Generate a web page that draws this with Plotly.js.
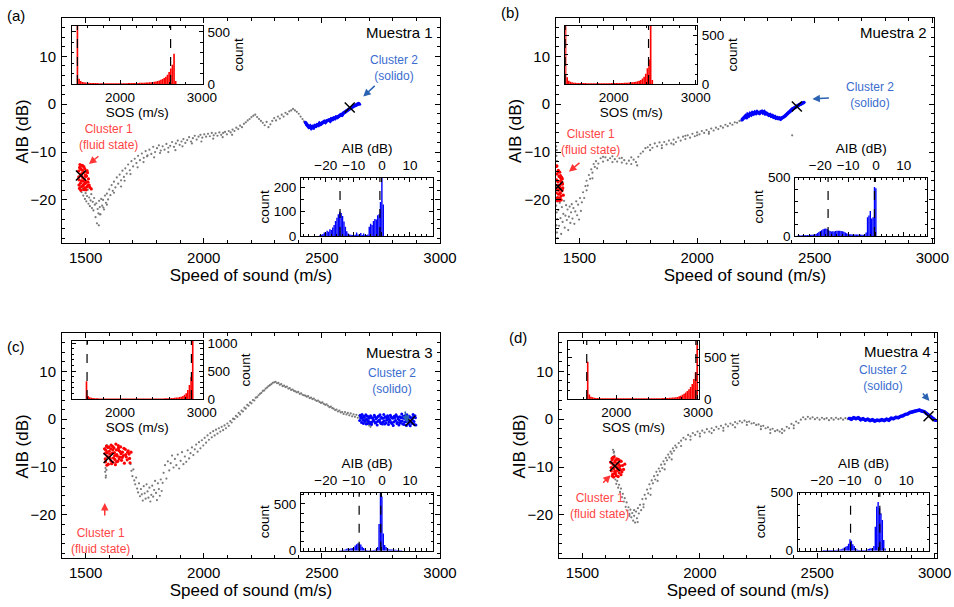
<!DOCTYPE html>
<html><head><meta charset="utf-8">
<script src="https://cdn.plot.ly/plotly-3.0.1.min.js"></script>
<style>html,body{margin:0;padding:0;background:#fff}#chart{width:954px;height:607px}</style>
</head><body><div id="chart"></div>
<script>
// ---------------- Panel (a) Muestra 1 ----------------
const grayAx = [1478,1483,1487,1490,1494,1497,1500,1503,1506,1509,
1512,1515,1518,1521,1524,1527,1530,1533,1536,1539,
1542,1545,1548,1551,1554,1557,1560,1563,1566,1570,
1574,1578,1582,1586,1590,1595,1600,1605,1610,1615,
1620,1626,1632,1638,1644,1650,1656,1662,1668,1674,
1680,1687,1694,1701,1708,1715,1722,1730,1738,1746,
1754,1762,1770,1778,1786,1794,1802,1810,1818,1826,
1834,1842,1850,1858,1866,1874,1882,1890,1898,1906,
1914,1922,1930,1938,1946,1954,1962,1970,1978,1986,
1994,2002,2010,2018,2026,2034,2042,2050,2058,2066,
2074,2082,2090,2098,2106,2114,2122,2130,2138,2146,
2154,2162,2170,2178,2186,2194,2202,2210,2218,2226,
2234,2242,2250,2258,2266,2274,2282,2290,2298,2306,
2314,2322,2330,2338,2346,2354,2362,2370,2378,2386,
2394,2402,2410,2418,2424,
1560,1575,1590,1620,1650,1665,1690,1720,1745,1760,
1790,1815,1850,1880,1910,1950,1990,2040,2080,2120,1556];
const grayAy = [-17.2,-18.4,-17.6,-19.1,-18.0,-19.8,-18.6,-20.3,-19.2,-17.9,
-20.8,-19.5,-21.3,-20.1,-18.8,-21.7,-20.4,-22.2,-19.6,-21.0,
-23.6,-20.7,-24.9,-21.9,-22.8,-20.2,-21.5,-23.0,-19.8,-21.2,
-20.0,-22.0,-19.1,-20.6,-18.7,-19.9,-17.8,-19.0,-16.9,-18.1,
-16.2,-17.4,-15.3,-16.6,-14.7,-15.9,-13.9,-15.2,-13.4,-14.5,
-12.6,-13.8,-11.9,-13.0,-11.4,-12.3,-10.8,-11.7,-10.3,-11.2,
-9.8,-10.7,-9.5,-10.4,-8.9,-10.0,-9.2,-8.6,-9.7,-8.8,
-9.5,-8.3,-9.1,-8.7,-7.9,-8.9,-8.2,-7.6,-8.5,-7.8,
-7.3,-8.1,-7.5,-6.9,-7.8,-7.1,-6.6,-7.4,-6.8,-6.4,
-7.0,-6.3,-6.8,-6.2,-6.7,-6.0,-6.5,-6.1,-6.6,-5.9,
-6.4,-6.0,-5.8,-6.3,-5.6,-5.9,-5.3,-5.6,-4.9,-5.2,
-4.5,-4.8,-4.1,-3.8,-3.4,-3.1,-2.7,-2.4,-2.2,-2.7,
-3.1,-3.5,-3.9,-4.4,-3.7,-4.8,-4.2,-3.5,-2.9,-3.4,
-2.6,-3.0,-2.2,-2.6,-1.8,-2.1,-1.5,-1.3,-1.0,-1.3,
-1.6,-2.0,-2.6,-3.1,-3.6,
-23.0,-21.6,-21.0,-18.5,-17.2,-16.0,-14.6,-13.2,-12.1,-10.9,
-11.1,-10.2,-10.0,-9.6,-8.8,-8.2,-7.8,-7.2,-6.9,-6.4,-25.3];
const redAx = [1470,1472,1475,1478,1480,1483,1486,1488,1491,1494,1497,1500,1503,1506,1509,1512,1515,
1472,1476,1480,1484,1488,1492,1496,1500,1504,1508,
1474,1479,1485,1490,1495,1502,1510,1518,1524,
1477,1482,1487,1493,1499,1505,
1471,1481,1489,1497];
const redAy = [-14.0,-15.8,-13.2,-16.5,-14.6,-17.2,-13.8,-15.4,-16.8,-14.2,-17.5,-15.1,-16.2,-13.9,-17.0,-15.6,-16.9,
-16.9,-12.6,-18.0,-15.0,-12.9,-17.8,-13.5,-16.4,-15.0,-14.3,
-17.6,-14.9,-12.8,-16.1,-15.7,-17.9,-16.3,-17.4,-17.7,
-13.4,-16.0,-14.4,-13.1,-14.8,-17.3,
-15.2,-13.6,-17.1,-16.6];
const blueAx = [2430,2435,2440,2445,2450,2455,2460,2465,2470,2475,2480,2485,2490,2495,2500,2505,2510,2515,2520,2525,
2530,2535,2540,2545,2550,2555,2560,2565,2570,2575,2580,2585,2590,2595,2600,2605,2610,2615,2620,2625,
2630,2635,2640,2645,2650,2655,2660];
const blueAy = [-3.8,-4.3,-4.5,-4.8,-4.6,-5.0,-4.7,-4.9,-4.5,-4.6,-4.3,-4.4,-4.0,-4.2,-3.9,-3.8,-3.6,-3.8,-3.5,-3.4,
-3.3,-3.5,-3.1,-3.2,-2.9,-3.0,-2.7,-2.8,-2.5,-2.4,-2.2,-2.3,-1.9,-1.8,-1.6,-1.4,-1.2,-1.0,-0.9,-0.7,
-0.6,-0.4,-0.3,-0.2,0.0,0.1,0.0];
const centerSosA = [1480, 2618];
const centerAibA = [-14.9, -0.7];
const sosAx = [1480,1500,1520,1540,1560,1580,1600,1620,1640,1660,
1680,1700,1720,1740,1760,1780,1800,1820,1840,1860,
1880,1900,1920,1940,1960,1980,2000,2020,2040,2060,
2080,2100,2120,2140,2160,2180,2200,2220,2240,2260,
2280,2300,2320,2340,2360,2380,2400,2420,2440,2460,
2480,2500,2520,2540,2560,2580,2600,2620,2640,2660,2680];
const sosAc = [620,50,28,20,16,14,12,11,10,10,
9,9,9,8,8,8,8,8,8,8,
8,8,8,8,8,8,8,8,8,8,
8,9,9,9,9,10,10,10,11,11,
12,13,14,15,16,18,20,22,25,29,
34,40,48,58,70,90,115,150,185,290,30];
const aibAx = [-22,-21.5,-21,-20.5,-20,-19.5,-19,-18.5,-18,-17.5,
-17,-16.5,-16,-15.5,-15,-14.5,-14,-13.5,-13,-12.5,
-12,-11.5,-11,-10.5,-10,-9.5,-9,-8.5,-8,-7.5,
-7,-6.5,-6,-5.5,-5,-4.5,-4,-3.5,-3,-2.5,
-2,-1.5,-1,-0.5,0,0.5];
const aibAc = [4,5,8,14,12,22,18,28,25,35,
45,62,75,90,100,95,82,60,38,20,
10,6,5,4,4,5,14,6,5,12,
4,10,5,4,6,38,50,45,62,70,
68,85,90,140,250,130];

// ---------------- Panel (b) Muestra 2 ----------------
const grayBx = [1401,1403,1402,1404,1401,1403,1405,1402,1404,1406,
1410,1413,1416,1419,1422,1425,1428,1431,1434,1437,
1440,1443,1446,1449,1452,1455,1458,1461,1464,1467,
1470,1474,1478,1482,1486,1490,1494,1498,1502,1506,
1510,1515,1520,1525,1530,1535,1540,1545,1550,1555,
1560,1565,1570,1580,1590,1600,1610,1620,1630,1640,
1650,1660,1670,1680,1690,1700,1710,1720,1730,1740,
1750,1760,1770,1780,1790,1800,1810,1820,1830,1840,
1850,1860,1870,1880,1890,1900,1910,1920,1930,1940,
1950,1960,1970,1980,1990,2000,2010,2020,2030,2040,
2050,2060,2070,2080,2090,2100,2110,2120,2130,2140,
2150,2160,2170,2180,2190,2404,
1530,1555,1575,1600,1640,1680,1720,1745,1800,1850,1900,1950,2000,2050];
const grayBy = [-8.8,-9.6,-10.8,-11.9,-21.2,-22.6,-24.0,-25.3,-26.8,-28.0,
-22.1,-25.4,-20.6,-23.8,-27.1,-21.5,-24.6,-22.9,-20.2,-25.8,
-23.3,-21.1,-24.2,-22.0,-26.3,-23.5,-21.4,-24.8,-22.6,-20.9,
-23.9,-21.7,-25.0,-22.4,-20.3,-23.2,-21.0,-24.1,-19.6,-22.3,
-20.5,-18.4,-19.6,-17.1,-16.0,-17.0,-14.8,-15.6,-13.6,-14.3,
-12.5,-13.1,-11.9,-12.4,-11.3,-12.0,-11.1,-11.7,-11.3,-12.1,
-11.5,-12.0,-11.3,-12.2,-11.7,-12.4,-11.8,-12.5,-11.6,-12.1,
-11.0,-10.3,-9.9,-9.2,-9.0,-8.5,-9.1,-8.2,-8.8,-8.0,
-8.6,-7.9,-8.4,-7.6,-8.2,-7.4,-7.9,-7.0,-7.6,-6.8,
-7.3,-6.5,-7.0,-6.2,-6.7,-5.9,-6.3,-5.6,-6.0,-5.4,
-5.8,-5.1,-5.5,-4.9,-5.2,-4.6,-4.9,-4.3,-4.6,-4.0,
-4.3,-3.8,-3.9,-3.5,-3.4,-6.5,
-18.0,-15.5,-13.4,-11.0,-10.9,-11.2,-11.1,-12.8,-9.6,-9.2,-8.4,-6.6,-6.5,-6.2];
const redBx = [1401,1403,1405,1407,1409,1411,1413,1415,1417,1419,1421,1423,1425,1427,1429,1431,
1402,1404,1406,1408,1410,1412,1414,1416,1418,1420,1422,1424,1426,1428,
1401,1405,1409,1413,1417,1421,1425,1403,1411,1419];
const redBy = [-13.0,-17.8,-14.6,-19.5,-16.2,-18.8,-15.1,-20.1,-17.0,-14.9,-19.2,-16.5,-18.1,-15.6,-17.5,-19.0,
-15.8,-12.9,-20.2,-16.9,-13.8,-19.9,-17.4,-14.2,-18.6,-16.0,-20.0,-15.3,-17.9,-16.7,
-18.5,-16.0,-14.1,-17.2,-19.6,-15.5,-16.3,-19.7,-18.0,-17.6];
const blueBx = [2190,2195,2200,2205,2210,2215,2220,2225,2230,2235,2240,2245,2250,2255,2260,2265,2270,2275,2280,2285,
2290,2295,2300,2305,2310,2315,2320,2325,2330,2335,2340,2345,2350,2355,2360,2365,2370,2375,2380,2385,
2390,2395,2400,2405,2410,2415,2420,2425,2430,2435,2440,2445,2450,2455];
const blueBy = [-3.3,-3.0,-2.8,-2.5,-2.9,-2.2,-2.4,-2.0,-2.2,-1.8,-2.0,-1.7,-1.9,-1.6,-1.8,-1.9,-1.6,-1.5,-1.8,-1.6,
-2.0,-1.9,-2.1,-2.3,-2.2,-2.5,-2.4,-2.7,-2.6,-2.9,-2.8,-3.0,-2.9,-3.1,-2.9,-2.8,-2.6,-2.4,-2.1,-1.9,
-1.7,-1.5,-1.2,-1.0,-0.9,-0.7,-0.6,-0.4,-0.3,-0.1,0.0,0.2,0.3,0.4];
const centerSosB = [1408, 2424];
const centerAibB = [-17.2, -0.5];
const sosBx = [1410,1430,1450,1470,1490,1510,1530,1550,1570,1590,
1610,1630,1650,1670,1690,1710,1730,1750,1770,1790,
1810,1830,1850,1870,1890,1910,1930,1950,1970,1990,
2010,2030,2050,2070,2090,2110,2130,2150,2170,2190,
2210,2230,2250,2270,2290,2310,2330,2350,2370,2390,
2410,2430,2450,2470];
const sosBc = [650,70,32,22,17,14,12,11,10,10,
9,9,9,8,8,8,8,8,8,8,
8,8,8,8,8,8,8,8,9,9,
9,9,10,10,11,11,12,13,14,15,
17,19,21,24,28,34,42,55,75,105,
160,250,650,40];
const aibBx = [-28,-27.5,-27,-26.5,-26,-25.5,-25,-24.5,-24,-23.5,
-23,-22.5,-22,-21.5,-21,-20.5,-20,-19.5,-19,-18.5,
-18,-17.5,-17,-16.5,-16,-15.5,-15,-14.5,-14,-13.5,
-13,-12.5,-12,-11.5,-11,-10.5,-10,-9.5,-9,-8.5,
-8,-7.5,-7,-6.5,-6,-5.5,-5,-4.5,-4,-3.5,
-3,-2.5,-2,-1.5,-1,-0.5,0];
const aibBc = [5,6,5,7,6,8,7,8,9,10,
10,12,14,18,25,35,42,50,58,62,
65,60,50,42,38,40,38,42,45,44,
46,43,40,36,30,24,18,15,14,13,
14,12,13,12,11,12,10,11,12,30,
160,175,215,150,160,420,410];

// ---------------- Panel (c) Muestra 3 ----------------
const grayCx = [1582,1584,1583,1586,1585,1588,1584,1590,1587,1589,
1690,1694,1698,1702,1706,1710,1714,1718,1722,1726,1730,1734,1738,1742,1746,1750,1754,1758,1762,1766,
1770,1774,1778,1782,1786,1790,1794,1798,1802,1806,1810,1814,1818,1822,1826,
1830,1836,1842,1848,1854,1860,1866,1872,1878,1884,1890,1896,1902,1908,1914,1920,1926,1932,1938,1944,
1950,1956,1962,1968,1974,1980,1986,1992,1998,2004,
2010,2016,2022,2028,2034,2040,2046,2052,2058,2064,2070,2076,2082,2088,2094,2100,2106,2112,2118,2124,
2130,2136,2142,2148,2154,2160,2166,2172,2178,2184,
2190,2196,2202,2208,2214,2220,2226,2232,2238,2244,2250,2256,2262,2268,2274,2280,2286,2292,2298,2304,
2310,2316,2322,2328,2334,2340,2346,2352,2358,2364,
2370,2376,2382,2388,2394,2400,2406,2412,2418,2424,2430,2436,2442,2448,2454,2460,2466,2472,2478,2484,
2490,2496,2502,2508,2514,2520,2526,2532,2538,2544,
2550,2556,2562,2568,2574,2580,2586,2592,2598,2604,2610,2616,2622,2628,2634,2640,2646,2652,2658,2664,
2670,2676,2682,2688,2694,2700,2706,2712];
const grayCy = [-9.0,-10.2,-11.0,-11.8,-12.2,-10.6,-6.0,-5.4,-8.4,-7.2,
-9.4,-10.8,-11.9,-10.5,-12.8,-13.6,-12.2,-14.5,-15.3,-13.4,-16.1,-14.6,-15.7,-17.0,-14.0,-15.5,-16.6,-13.6,-15.1,-16.4,
-14.3,-17.2,-15.8,-13.9,-16.2,-14.8,-12.9,-15.4,-16.9,-13.4,-14.6,-16.0,-12.6,-15.0,-13.3,
-11.2,-9.6,-12.4,-8.8,-10.7,-9.2,-7.6,-10.1,-8.3,-9.6,-7.4,-10.3,-8.7,-6.9,-9.4,-7.8,-8.9,-6.5,-8.2,-7.1,
-5.9,-7.5,-6.3,-5.3,-6.8,-4.8,-6.1,-4.4,-5.5,-3.9,
-4.9,-3.4,-4.3,-2.9,-3.8,-2.5,-3.4,-2.2,-3.0,-1.9,-2.6,-1.6,-2.3,-1.3,-1.9,-0.9,-1.4,-0.4,-0.7,0.1,
0.0,0.7,0.5,1.3,1.0,1.8,1.6,2.4,2.2,3.0,
2.8,3.5,3.3,4.0,3.9,4.5,4.6,5.0,5.3,5.5,5.9,6.0,6.4,6.6,6.9,7.1,7.3,7.6,7.7,7.8,
7.5,7.6,7.2,7.3,6.9,7.0,6.7,6.8,6.4,6.5,
6.1,6.2,5.9,5.8,5.6,5.7,5.3,5.4,5.1,5.0,4.9,4.7,4.8,4.4,4.5,4.2,4.3,4.0,3.8,3.9,
3.6,3.4,3.5,3.2,3.0,3.1,2.8,2.5,2.6,2.3,
2.2,1.9,2.0,1.6,1.8,1.4,1.5,1.1,1.5,1.0,1.3,0.8,1.2,0.6,1.0,0.5,0.9,0.3,0.7,0.2,
0.4,-0.2,0.1,-0.6,-0.9,-1.3,-1.6,-1.0];
const redCx = [1580,1584,1588,1592,1596,1600,1604,1608,1612,1616,1620,1624,1628,1632,1636,1640,1644,1648,1652,1656,
1660,1664,1668,1672,1676,1680,1684,1688,1692,
1582,1586,1590,1594,1598,1602,1606,1610,1614,1618,1622,1626,1630,1634,1638,1642,1646,1650,1655,1662,1670,1678,1686,
1583,1591,1599,1607,1615,1623,1631,1639];
const redCy = [-6.2,-8.9,-5.6,-7.8,-9.4,-6.7,-8.2,-5.4,-7.1,-9.0,-6.0,-8.4,-5.2,-7.4,-8.8,-6.5,-7.9,-5.8,-8.6,-6.9,
-7.6,-9.2,-6.3,-7.9,-8.5,-6.6,-7.3,-9.1,-6.9,
-7.2,-6.5,-9.6,-5.9,-8.0,-7.3,-6.2,-9.3,-5.7,-8.1,-7.0,-9.5,-6.4,-7.7,-5.5,-8.3,-6.8,-7.2,-8.0,-6.1,-7.4,-6.9,-8.2,
-8.3,-7.0,-5.8,-8.7,-6.4,-7.6,-8.9,-6.0];
const blueCx1 = [2662,2666,2670,2674,2678,2682,2686,2690,2694,2698,2702,2706,2710,2714,2718,2722,2726,2730,2734,2738,
2742,2746,2750,2754,2758,2762,2766,2770,2774,2778,2782,2786,2790,2794,2798,2802,2806,2810,2814,2818,
2822,2826,2830,2834,2838,2842,2846,2850,2854,2858,2862,2866,2870,2874,2878,2882,2886,2890,2894,2898];
const blueCy1 = [0.8,0.2,1.0,-0.2,0.6,-0.5,0.9,0.0,-0.9,0.5,-0.6,0.7,-1.1,0.3,-0.4,0.8,-0.8,0.1,-1.2,0.6,
-0.3,0.9,-0.9,0.2,-0.6,1.0,-1.0,0.4,-0.2,0.7,-1.1,0.0,0.8,-0.7,0.3,-1.3,0.6,-0.4,0.9,-0.9,
0.1,-1.2,0.5,-0.5,1.1,-1.0,0.2,-0.6,0.8,-1.3,0.0,-0.8,0.6,-1.4,0.3,-0.9,1.0,-0.5,0.7,-1.2];
const blueCx2 = [2660,2664,2668,2672,2676,2680,2684,2688,2692,2696,2700,2704,2708,2712,2716,2720,2724,2728,2732,2736,
2740,2744,2748,2752,2756,2760,2764,2768,2772,2776,2780,2784,2788,2792,2796,2800,2804,2808,2812,2816,
2820,2824,2828,2832,2836,2840,2844,2848,2852,2856,2860,2864,2868,2872,2876,2880,2884,2888,2892,2896];
const blueCy2 = [-0.3,0.5,-0.7,0.3,-0.9,0.4,-0.2,-1.0,0.6,-0.4,0.2,-0.9,0.4,-0.6,0.1,-0.3,0.5,-0.7,0.3,-0.5,
0.6,-0.1,-0.7,0.4,-1.0,0.2,-0.4,0.5,-0.8,0.1,0.4,-0.6,-0.2,0.5,-0.9,0.2,-0.6,0.3,-0.3,0.6,
-0.7,0.4,-0.2,-0.8,0.3,-0.4,0.6,-1.1,0.2,-0.5,0.9,-0.3,-1.0,0.4,-0.6,0.2,-0.2,0.5,-1.1,0.3];
const centerSosC = [1597, 2874];
const centerAibC = [-8.1, -0.4];
const sosCx = [1590,1610,1630,1650,1670,1690,1710,1730,1750,1770,
1790,1810,1830,1850,1870,1890,1910,1930,1950,1970,
1990,2010,2030,2050,2070,2090,2110,2130,2150,2170,
2190,2210,2230,2250,2270,2290,2310,2330,2350,2370,
2390,2410,2430,2450,2470,2490,2510,2530,2550,2570,
2590,2610,2630,2650,2670,2690,2710,2730,2750,2770,
2790,2810,2830,2850,2870,2890];
const sosCc = [320,55,30,22,18,15,13,12,11,10,
10,9,9,9,9,8,8,8,8,8,
8,8,8,8,8,8,8,8,8,8,
8,8,8,8,8,8,8,8,8,8,
9,9,9,9,10,10,10,11,12,13,
14,15,17,19,22,25,29,34,42,55,
75,105,160,250,400,1100];
const aibCx = [-15,-14.5,-14,-13.5,-13,-12.5,-12,-11.5,-11,-10.5,
-10,-9.5,-9,-8.5,-8,-7.5,-7,-6.5,-6,-5.5,
-5,-4.5,-4,-3.5,-3,-2.5,-2,-1.5,-1,-0.5,
0,0.5,1,1.5,2,2.5,3,3.5,4,4.5,
5,5.5,6,6.5,7];
const aibCc = [5,6,8,10,14,20,25,22,25,28,
35,55,70,80,78,65,42,30,15,8,
6,5,5,6,8,10,14,40,285,640,
580,185,60,40,25,16,14,12,12,10,
10,8,8,6,5];

// ---------------- Panel (d) Muestra 4 ----------------
const grayDx = [1630,1633,1636,1628,1634,
1640,1644,1648,1652,1656,1660,1664,1668,1672,1676,1680,1684,1688,1692,1696,1700,1704,1708,1712,1716,
1720,1724,1728,1732,1736,1740,1745,1750,1755,1760,
1765,1770,1775,1780,1785,1790,1795,1800,1805,1810,1815,1820,1825,1830,1835,1840,1845,1850,1855,1860,
1865,1870,1875,1880,1885,1890,1895,1900,1910,1920,
1930,1940,1950,1960,1970,1980,1990,2000,2010,2020,2030,2040,2050,2060,2070,2080,2090,2100,2110,2120,
2130,2140,2150,2160,2170,2180,2190,2200,2210,2220,
2230,2240,2250,2260,2270,2280,2290,2300,2310,2320,2330,2340,2350,2360,2370,2380,2390,2400,2410,2420,
2430,2440,2450,2460,2470,2480,2490,2500,2510,2520,
2530,2540,2550,2560,2570,2580,2590,2600,2610,2620,2630,
1700,1720,1735,1760,1790,1820,1850,1880,1920,1960,2000,2050,2100,2150,2200,2260,2300,2350,2400];
const grayDy = [-6.4,-7.0,-7.6,-8.0,-6.8,
-12.6,-13.5,-12.9,-14.3,-13.7,-15.2,-14.5,-16.3,-15.6,-17.2,-16.5,-18.3,-17.4,-19.1,-18.4,-19.8,-18.9,-20.5,-19.6,-21.2,
-20.2,-21.6,-19.3,-20.7,-18.6,-19.7,-17.9,-19.0,-16.7,-17.8,
-15.8,-16.6,-14.7,-15.5,-13.6,-14.5,-12.8,-13.4,-11.9,-12.6,-11.0,-11.7,-10.3,-10.9,-9.5,-10.2,-8.8,-9.4,-8.1,-8.6,
-7.4,-8.0,-6.8,-7.2,-6.1,-6.6,-5.5,-5.9,-5.0,-4.5,
-3.9,-4.2,-3.3,-3.6,-2.9,-3.3,-2.6,-3.0,-2.4,-2.8,-2.1,-2.6,-1.9,-2.3,-1.6,-2.0,-1.4,-1.8,-1.1,-1.5,
-0.9,-1.2,-0.6,-0.9,-0.4,-0.7,-0.3,-0.6,-0.5,-0.9,
-0.8,-1.2,-1.1,-1.5,-1.4,-1.9,-1.7,-2.2,-2.0,-2.5,-2.3,-2.6,-2.1,-2.4,-1.6,-1.9,-1.0,-1.3,-0.5,-0.8,
-0.1,0.4,0.0,0.5,0.1,0.4,0.0,0.3,-0.1,0.3,
0.0,0.2,-0.2,0.2,-0.1,0.3,0.0,0.2,-0.1,0.2,0.0,
-20.2,-19.0,-21.5,-18.4,-15.8,-12.9,-10.5,-8.4,-5.6,-4.3,-3.6,-2.9,-2.4,-1.7,-1.2,-2.1,-2.9,-2.9,-1.9];
const redDx = [1620,1623,1626,1629,1632,1635,1638,1641,1644,1647,1650,1653,1656,1659,1662,1665,1668,
1622,1625,1628,1631,1634,1637,1640,1643,1646,1649,1652,1655,1658,1661,1664,1670,1675,1680,
1627,1633,1639,1645,1651];
const redDy = [-9.0,-10.8,-8.2,-11.5,-9.6,-7.9,-10.9,-8.6,-11.8,-9.3,-10.2,-8.4,-11.2,-9.8,-10.6,-8.8,-11.0,
-10.1,-9.2,-11.9,-8.0,-10.4,-9.0,-11.4,-9.9,-8.3,-10.7,-12.0,-9.5,-10.3,-8.7,-11.6,-9.7,-10.5,-9.4,
-8.5,-12.1,-11.1,-10.0,-9.1];
const blueDx = [2635,2645,2655,2665,2675,2685,2695,2705,2715,2725,2735,2745,2755,2765,2775,2785,2795,2805,2815,2825,
2835,2845,2855,2865,2875,2885,2895,2905,2915,2925,2935,2945,2955,2965,2975,2985,2995,3005];
const blueDy = [0.2,0.0,0.3,0.1,0.3,-0.1,0.1,-0.2,0.0,-0.3,-0.1,-0.4,-0.2,-0.3,-0.1,-0.3,0.0,-0.2,0.2,0.1,
0.4,0.3,0.6,0.7,1.0,1.1,1.4,1.5,1.7,1.8,1.9,1.7,1.6,1.2,0.8,0.5,0.1,-0.3];
const centerSosD = [1638, 2974];
const centerAibD = [-9.8, 0.6];
const sosDx = [1650,1670,1690,1710,1730,1750,1770,1790,1810,1830,
1850,1870,1890,1910,1930,1950,1970,1990,2010,2030,
2050,2070,2090,2110,2130,2150,2170,2190,2210,2230,
2250,2270,2290,2310,2330,2350,2370,2390,2410,2430,
2450,2470,2490,2510,2530,2550,2570,2590,2610,2630,
2650,2670,2690,2710,2730,2750,2770,2790,2810,2830,
2850,2870,2890,2910,2930,2950,2970,2990];
const sosDc = [450,55,28,20,16,13,12,11,10,10,
9,9,9,8,8,8,8,8,8,8,
8,8,8,8,8,8,8,8,8,8,
8,8,8,8,8,8,8,8,8,8,
8,9,9,9,10,10,11,11,12,13,
14,15,17,19,22,25,32,40,50,62,
78,96,118,145,180,240,320,720];
const aibDx = [-19.5,-19,-18.5,-18,-17.5,-17,-16.5,-16,-15.5,-15,
-14.5,-14,-13.5,-13,-12.5,-12,-11.5,-11,-10.5,-10,
-9.5,-9,-8.5,-8,-7.5,-7,-6.5,-6,-5.5,-5,
-4.5,-4,-3.5,-3,-2.5,-2,-1.5,-1,-0.5,0,
0.5,1,1.5,2,2.5];
const aibDc = [5,5,6,6,6,6,7,6,7,7,
8,8,10,12,18,28,34,40,60,98,
85,55,40,20,10,7,6,6,5,5,
6,8,14,20,22,20,40,207,380,420,
365,322,264,92,20];

const sampleNames = ['Muestra 1','Muestra 2','Muestra 3','Muestra 4'];
const panelLetters = ['(a)','(b)','(c)','(d)'];
const cluster1Label = 'Cluster 1<br>(fluid state)';
const cluster2Label = 'Cluster 2<br>(solido)';
const mainYTitle = 'AIB (dB)';

// ---------------- build ----------------
const W = 954, H = 607;
const FONT = '"Liberation Sans", Arial, Helvetica, sans-serif';
const fx = p => p / W, fy = p => 1 - p / H;

const panels = [
 {gx:grayAx, gy:grayAy, rx:redAx, ry:redAy, bx:blueAx, by:blueAy, bmode:'lines+markers', cs:centerSosA, ca:centerAibA, sx:sosAx, sc:sosAc, hx:aibAx, hc:aibAc},
 {gx:grayBx, gy:grayBy, rx:redBx, ry:redBy, bx:blueBx, by:blueBy, bmode:'lines+markers', cs:centerSosB, ca:centerAibB, sx:sosBx, sc:sosBc, hx:aibBx, hc:aibBc},
 {gx:grayCx, gy:grayCy, rx:redCx, ry:redCy, bx:blueCx1.concat(blueCx2), by:blueCy1.concat(blueCy2), bmode:'markers', cs:centerSosC, ca:centerAibC, sx:sosCx, sc:sosCc, hx:aibCx, hc:aibCc},
 {gx:grayDx, gy:grayDy, rx:redDx, ry:redDy, bx:blueDx, by:blueDy, bmode:'lines+markers', cs:centerSosD, ca:centerAibD, sx:sosDx, sc:sosDc, hx:aibDx, hc:aibDc}
];

const geo = [
 {main:[62,440,18,243], mxr:[1400,3000], sos:[71.7,202.7,25.7,84], sxr:[1410,3010], syr:[0,560], syt:[0,500], aib:[301,433,177.7,236], axr:[-28.8,18.2], ayr:[0,240], ayt:[0,100,200], aym:50,
  letter:[16,16], name:[399.5,32.5], c2:[394,68.5], c1:[108,137], yt:[22,131.5],
  a1:{x:1514,y:-12.5,ax:11,ay:-9}, a2:{x:2675,y:1.6,ax:13,ay:-12}},
 {main:[556,934,18,243], mxr:[1400,3007], sos:[565.3,697,25.7,84], sxr:[1407,3016], syr:[0,595], syt:[0,500], aib:[795.3,927,177.7,236], axr:[-29,18.4], ayr:[0,500], ayt:[0,500], aym:100,
  letter:[510,12.5], name:[893.7,32.5], c2:[870,94.5], c1:[590,142], yt:[515.5,131.5],
  a1:{x:1455,y:-14.1,ax:12,ay:-10}, a2:{x:2490,y:1.1,ax:18,ay:-1}},
 {main:[62,440,333,558], mxr:[1400,3000], sos:[71.7,202.7,341,399], sxr:[1409,3012], syr:[0,1040], syt:[0,500,1000], aib:[301,433,492.7,550.7], axr:[-28.8,18.2], ayr:[0,620], ayt:[0,500], aym:100,
  letter:[16,346.5], name:[399.8,352.5], c2:[392,381], c1:[100.5,541], yt:[22,446.5],
  a1:{x:1581,y:-17.5,ax:0,ay:14}, a2:{x:2863,y:-0.8,ax:-3,ay:-13}},
 {main:[559,937,333,558], mxr:[1400,3010], sos:[567.7,699.3,341,399], sxr:[1405,3016], syr:[0,700], syt:[0,500], aib:[797.7,929.3,492.7,550.7], axr:[-28.6,18.2], ayr:[0,500], ayt:[0,500], aym:100,
  letter:[518,337.5], name:[897.8,351], c2:[883,378], c1:[599,506], yt:[519,446.5],
  a1:{x:1620,y:-11.7,ax:-9,ay:9}, a2:{x:2978,y:3.8,ax:-8,ay:-9}}
];

const RED = '#ff0000', BLUE = '#0000ff';
const RED_TXT = '#ff4545', BLUE_TXT = '#3a6ccf', RED_ARR = '#ff3535', BLUE_ARR = '#2b62b2';

function base(extra) {
  return Object.assign({showline:true, linecolor:'#000', linewidth:1, mirror:'allticks', ticks:'inside',
    ticklen:5, tickwidth:1, tickcolor:'#000', showgrid:false, zeroline:false, fixedrange:true,
    tickfont:{size:15, color:'#000', family:FONT}}, extra);
}
const id = n => n === 1 ? '' : String(n);

const traces = [], layout = {
  width:W, height:H, margin:{l:0,r:0,t:0,b:0}, paper_bgcolor:'#fff', plot_bgcolor:'#fff',
  showlegend:false, font:{family:FONT, color:'#000'}, annotations:[], shapes:[]
};

panels.forEach((p, i) => {
  const g = geo[i];
  const m = i + 1, s = i + 5, h = i + 9;
  const mx = 'x' + id(m), my = 'y' + id(m), sx = 'x' + s, sy = 'y' + s, hx = 'x' + h, hy = 'y' + h;

  layout['xaxis' + id(m)] = base({domain:[fx(g.main[0]), fx(g.main[1])], anchor:my, range:g.mxr, dtick:500, tick0:1500,
    ticklabelstandoff:1, minor:{dtick:100, tick0:1400, ticks:'inside', ticklen:3, tickcolor:'#000', showgrid:false},
    title:{text:'Speed of sound (m/s)', font:{size:17, family:FONT}, standoff:3}});
  layout['yaxis' + id(m)] = base({domain:[fy(g.main[3]), fy(g.main[2])], anchor:mx, range:[-29,18], dtick:10, tick0:0,
    ticklabelstandoff:2, minor:{dtick:2, tick0:0, ticks:'inside', ticklen:3, tickcolor:'#000', showgrid:false}});

  layout['xaxis' + s] = base({domain:[fx(g.sos[0]), fx(g.sos[1])], anchor:sy, range:g.sxr, dtick:1000, tick0:0, ticklen:4,
    tickfont:{size:13.5, family:FONT}, ticklabelstandoff:1,
    minor:{dtick:200, tick0:0, ticks:'inside', ticklen:2.5, tickcolor:'#000', showgrid:false},
    title:{text:'SOS (m/s)', font:{size:13.5, family:FONT}, standoff:2}});
  layout['yaxis' + s] = base({domain:[fy(g.sos[3]), fy(g.sos[2])], anchor:sx, side:'right', range:g.syr, tickmode:'array', tickvals:g.syt,
    ticklen:4, tickfont:{size:13.5, family:FONT}, ticklabelstandoff:1,
    minor:{dtick:100, tick0:0, ticks:'inside', ticklen:2.5, tickcolor:'#000', showgrid:false},
    title:{text:'count', font:{size:13.5, family:FONT}, standoff:4}});

  layout['xaxis' + h] = base({domain:[fx(g.aib[0]), fx(g.aib[1])], anchor:hy, side:'top', range:g.axr, dtick:10, tick0:0, ticklen:4,
    tickfont:{size:13.5, family:FONT}, ticklabelstandoff:1,
    minor:{dtick:2, tick0:0, ticks:'inside', ticklen:2.5, tickcolor:'#000', showgrid:false},
    title:{text:'AIB (dB)', font:{size:13.5, family:FONT}, standoff:1}});
  layout['yaxis' + h] = base({domain:[fy(g.aib[3]), fy(g.aib[2])], anchor:hx, range:g.ayr, tickmode:'array', tickvals:g.ayt,
    ticklen:4, tickfont:{size:13.5, family:FONT}, ticklabelstandoff:1,
    minor:{dtick:g.aym, tick0:0, ticks:'inside', ticklen:2.5, tickcolor:'#000', showgrid:false},
    title:{text:'count', font:{size:13.5, family:FONT}, standoff:1}});

  traces.push({type:'scatter', mode:'markers', x:p.gx, y:p.gy, xaxis:mx, yaxis:my, hoverinfo:'skip',
    marker:{size:2.2, color:'#7a7a7a', line:{width:0}}});
  traces.push({type:'scatter', mode:'markers', x:p.rx, y:p.ry, xaxis:mx, yaxis:my, hoverinfo:'skip',
    marker:{size:3.2, color:RED, line:{width:0}}});
  traces.push({type:'scatter', mode:p.bmode, x:p.bx, y:p.by, xaxis:mx, yaxis:my, hoverinfo:'skip',
    line:{color:BLUE, width:3.5}, marker:{size:3, color:BLUE, line:{width:0}}});
  traces.push({type:'scatter', mode:'markers', x:p.cs, y:p.ca, xaxis:mx, yaxis:my, hoverinfo:'skip',
    marker:{symbol:'x-thin', size:10, color:'#000', line:{width:1.5, color:'#000'}}});

  traces.push({type:'bar', x:p.sx, y:p.sc, width:20, xaxis:sx, yaxis:sy, hoverinfo:'skip',
    marker:{color:RED, line:{width:0}}});
  traces.push({type:'bar', x:p.hx, y:p.hc, width:0.5, xaxis:hx, yaxis:hy, hoverinfo:'skip',
    marker:{color:BLUE, line:{width:0}}});

  p.cs.forEach(v => layout.shapes.push({type:'line', xref:sx, yref:sy + ' domain', x0:v, x1:v, y0:0, y1:1,
    line:{color:'#000', width:1.2, dash:'dash'}, layer:'above'}));
  p.ca.forEach(v => layout.shapes.push({type:'line', xref:hx, yref:hy + ' domain', x0:v, x1:v, y0:0, y1:1,
    line:{color:'#000', width:1.2, dash:'dash'}, layer:'above'}));

  const txt = (text, pos, size, color, angle) => ({text, x:fx(pos[0]), y:fy(pos[1]), xref:'paper', yref:'paper',
    showarrow:false, xanchor:'center', yanchor:'middle', textangle:angle || 0, font:{size, color, family:FONT}});
  layout.annotations.push(txt(mainYTitle, g.yt, 17, '#000', -90));
  layout.annotations.push(txt(panelLetters[i], g.letter, 15, '#000'));
  layout.annotations.push(txt(sampleNames[i], g.name, 15, '#000'));
  layout.annotations.push(txt(cluster2Label, g.c2, 12, BLUE_TXT));
  layout.annotations.push(txt(cluster1Label, g.c1, 12, RED_TXT));
  const arr = (a, color) => ({text:'', x:a.x, y:a.y, xref:mx, yref:my, ax:a.ax, ay:a.ay, showarrow:true,
    arrowhead:2, arrowsize:1, arrowwidth:1.5, arrowcolor:color, standoff:0});
  layout.annotations.push(arr(g.a1, RED_ARR));
  layout.annotations.push(arr(g.a2, BLUE_ARR));
});

Plotly.newPlot('chart', traces, layout, {staticPlot:true, displayModeBar:false});
</script></body></html>
